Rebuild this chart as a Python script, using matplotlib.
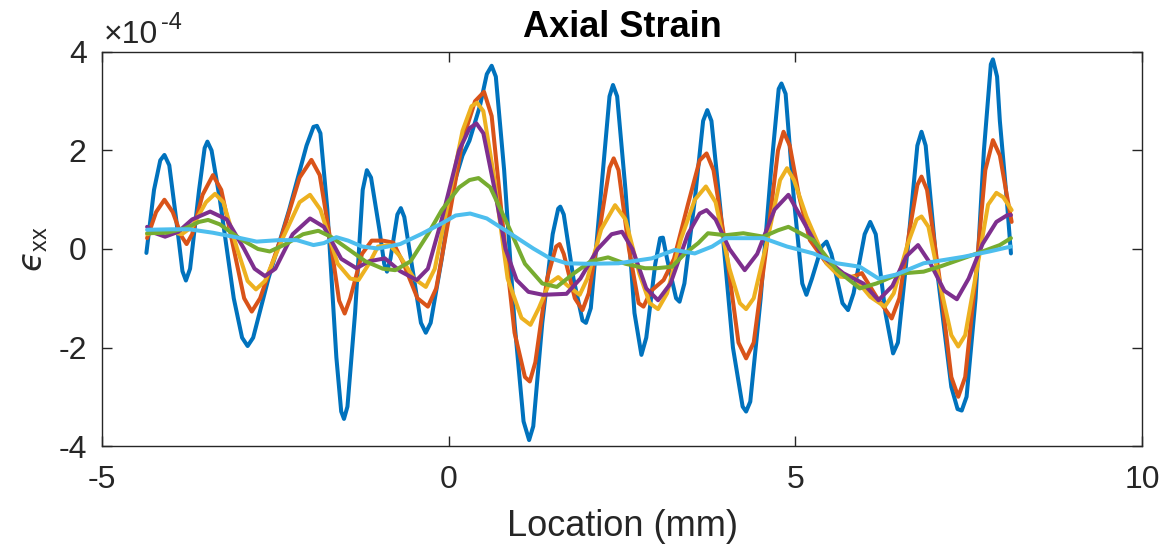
import numpy as np
import matplotlib
matplotlib.use("Agg")
import matplotlib.pyplot as plt
from matplotlib.ticker import FuncFormatter

plt.rcParams['font.family'] = ['Liberation Sans', 'DejaVu Sans']
plt.rcParams['axes.unicode_minus'] = False
plt.rcParams['mathtext.fontset'] = 'custom'
plt.rcParams['mathtext.rm'] = 'Liberation Sans'

# strain along the gauge, in units of 1e-4
x1 = [-4.36, -4.25, -4.16, -4.10, -4.03, -3.93, -3.84, -3.79, -3.73, -3.60, -3.52, -3.48, -3.42, -3.30, -3.10,
      -2.98, -2.90, -2.82, -2.60, -2.30, -2.05, -1.95, -1.90, -1.85, -1.75, -1.62, -1.55, -1.51, -1.46, -1.35,
      -1.24, -1.18, -1.12, -1.00, -0.93, -0.89, -0.84, -0.74, -0.69, -0.64, -0.50, -0.40, -0.33, -0.26, -0.10,
      0.05, 0.20, 0.30, 0.45, 0.55, 0.62, 0.68, 0.80, 0.95, 1.08, 1.16, 1.22, 1.35, 1.50, 1.58, 1.61, 1.66,
      1.80, 1.93, 1.98, 2.05, 2.20, 2.32, 2.37, 2.43, 2.55, 2.68, 2.78, 2.85, 2.98, 3.05, 3.09, 3.15, 3.28,
      3.33, 3.40, 3.55, 3.67, 3.73, 3.79, 3.92, 4.10, 4.24, 4.29, 4.35, 4.50, 4.65, 4.76, 4.80, 4.86, 4.98,
      5.10, 5.16, 5.24, 5.38, 5.45, 5.52, 5.68, 5.76, 5.84, 6.00, 6.08, 6.16, 6.30, 6.41, 6.48, 6.62, 6.76,
      6.82, 6.88, 7.05, 7.25, 7.34, 7.40, 7.47, 7.60, 7.72, 7.82, 7.85, 7.91, 7.95, 8.05, 8.11]
y1 = [-0.08, 1.20, 1.80, 1.91, 1.70, 0.60, -0.45, -0.64, -0.40, 1.20, 2.05, 2.18, 2.00, 1.00, -1.00,
      -1.80, -1.97, -1.80, -0.60, 0.80, 2.10, 2.48, 2.50, 2.35, 0.80, -2.20, -3.30, -3.45, -3.20, -1.30,
      1.20, 1.60, 1.45, 0.40, -0.30, -0.46, -0.20, 0.70, 0.83, 0.65, -0.60, -1.50, -1.70, -1.50, -0.20,
      1.20, 1.90, 2.20, 2.90, 3.55, 3.72, 3.50, 1.60, -1.50, -3.50, -3.88, -3.60, -1.50, 0.30, 0.82, 0.86, 0.70,
      -0.60, -1.45, -1.50, -1.20, 1.20, 3.10, 3.33, 3.10, 1.20, -1.30, -2.15, -1.80, -0.30, 0.22, 0.23, -0.20, -1.00,
      -1.07, -0.70, 1.00, 2.60, 2.82, 2.60, 0.80, -2.00, -3.20, -3.30, -3.10, -1.00, 1.60, 3.25, 3.36, 3.15, 1.00,
      -0.70, -0.93, -0.60, 0.05, 0.15, -0.10, -1.10, -1.24, -0.90, 0.30, 0.55, 0.30, -1.30, -2.12, -1.90, 0.00, 2.10,
      2.38, 2.10, -0.50, -2.80, -3.25, -3.28, -3.00, -1.00, 2.00, 3.75, 3.85, 3.50, 2.60, 1.00, -0.09]

x2 = [-4.35, -4.22, -4.10, -3.98, -3.85, -3.78, -3.70, -3.55, -3.40, -3.28, -3.10, -2.95, -2.84, -2.72, -2.40,
      -2.15, -1.98, -1.86, -1.72, -1.58, -1.50, -1.42, -1.25, -1.11, -0.95, -0.80, -0.65, -0.45, -0.30, -0.18,
      0.00, 0.20, 0.38, 0.51, 0.62, 0.78, 0.95, 1.10, 1.17, 1.25, 1.42, 1.55, 1.60, 1.66, 1.82, 1.93, 2.02,
      2.20, 2.32, 2.38, 2.45, 2.60, 2.74, 2.81, 2.92, 3.10, 3.25, 3.45, 3.62, 3.72, 3.82, 4.00, 4.18, 4.29,
      4.40, 4.58, 4.75, 4.83, 4.92, 5.05, 5.21, 5.45, 5.64, 5.80, 5.96, 6.17, 6.39, 6.50, 6.65, 6.76, 6.82,
      6.90, 7.08, 7.25, 7.35, 7.45, 7.60, 7.74, 7.85, 7.95, 8.05, 8.12]
y2 = [0.22, 0.75, 1.00, 0.75, 0.25, 0.10, 0.30, 1.10, 1.50, 1.20, 0.00, -1.00, -1.27, -1.00, 0.30,
      1.45, 1.81, 1.50, 0.30, -1.05, -1.31, -1.00, -0.10, 0.17, 0.17, 0.13, -0.30, -1.00, -1.17, -0.80,
      0.60, 2.20, 3.00, 3.19, 2.70, 0.50, -1.70, -2.60, -2.69, -2.30, -0.60, 0.05, 0.10, -0.10, -1.00, -1.24, -0.90,
      0.60, 1.65, 1.84, 1.60, 0.00, -1.10, -1.17, -0.85, -0.63, -0.20, 0.90, 1.80, 1.94, 1.60, 0.00, -1.90, -2.22,
      -1.90, 0.00, 2.00, 2.38, 2.10, 1.10, 0.18, -0.29, -0.55, -0.58, -0.49, -0.97, -1.41, -1.00, 0.40, 1.30, 1.47,
      1.20, -0.60, -2.60, -3.00, -2.60, -0.60, 1.60, 2.21, 1.90, 1.10, 0.55]

x3 = [-4.35, -4.20, -4.05, -3.85, -3.70, -3.50, -3.37, -3.25, -3.05, -2.90, -2.78, -2.65, -2.40, -2.15, -2.00,
      -1.85, -1.60, -1.42, -1.30, -1.15, -1.02, -0.85, -0.70, -0.50, -0.33, -0.20, 0.00, 0.20, 0.33, 0.41,
      0.50, 0.65, 0.85, 1.05, 1.18, 1.30, 1.45, 1.58, 1.72, 1.89, 2.00, 2.20, 2.40, 2.55, 2.75, 2.90, 3.02,
      3.15, 3.35, 3.55, 3.71, 3.85, 4.05, 4.20, 4.29, 4.40, 4.60, 4.78, 4.88, 4.98, 5.16, 5.45, 5.64, 5.84,
      6.08, 6.29, 6.42, 6.62, 6.75, 6.82, 6.92, 7.10, 7.25, 7.35, 7.45, 7.62, 7.78, 7.90, 8.00, 8.12]
y3 = [0.30, 0.36, 0.36, 0.30, 0.45, 0.95, 1.12, 0.95, 0.00, -0.65, -0.82, -0.65, 0.20, 0.95, 1.10,
      0.80, -0.30, -0.60, -0.63, -0.30, 0.05, 0.08, -0.15, -0.60, -0.77, -0.40, 1.00, 2.40, 2.90, 2.97,
      2.80, 1.50, -0.60, -1.40, -1.54, -1.20, -0.70, -0.57, -0.75, -0.93, -0.60, 0.40, 0.89, 0.60, -0.50, -1.10, -1.22,
      -0.90, 0.20, 1.00, 1.27, 0.95, -0.40, -1.10, -1.22, -1.00, 0.20, 1.40, 1.64, 1.40, 0.66, -0.29, -0.56, -0.56,
      -0.97, -1.17, -0.90, 0.10, 0.60, 0.66, 0.45, -0.80, -1.75, -1.98, -1.75, -0.40, 0.90, 1.14, 1.05, 0.79]

x4 = [-4.35, -4.25, -4.09, -3.90, -3.70, -3.44, -3.20, -2.95, -2.80, -2.65, -2.50, -2.25, -2.00, -1.80, -1.55,
      -1.33, -1.15, -0.92, -0.70, -0.46, -0.30, -0.10, 0.15, 0.30, 0.40, 0.50, 0.65, 0.82, 0.98, 1.15, 1.36,
      1.70, 1.90, 2.15, 2.35, 2.50, 2.65, 2.85, 3.02, 3.20, 3.45, 3.62, 3.72, 3.85, 4.05, 4.27, 4.45, 4.70,
      4.90, 5.10, 5.40, 5.69, 5.98, 6.20, 6.40, 6.60, 6.77, 6.95, 7.15, 7.33, 7.50, 7.70, 7.90, 8.06, 8.11]
y4 = [0.45, 0.33, 0.25, 0.35, 0.60, 0.76, 0.60, 0.00, -0.40, -0.55, -0.40, 0.30, 0.62, 0.45, -0.20,
      -0.39, -0.25, -0.19, -0.45, -0.63, -0.40, 0.60, 2.00, 2.45, 2.55, 2.35, 1.30, 0.00, -0.63, -0.87, -0.93,
      -0.91, -0.60, 0.00, 0.30, 0.35, 0.00, -0.80, -1.04, -0.70, 0.30, 0.72, 0.79, 0.60, 0.00, -0.43, -0.10, 0.80,
      1.10, 0.60, -0.16, -0.49, -0.70, -1.04, -0.75, -0.15, 0.08, -0.30, -0.85, -1.02, -0.60, 0.10, 0.55, 0.69, 0.69]

x5 = [-4.35, -4.07, -3.80, -3.60, -3.47, -3.30, -3.00, -2.75, -2.58, -2.35, -2.10, -1.88, -1.70, -1.50, -1.20,
      -0.95, -0.77, -0.55, -0.30, -0.10, 0.15, 0.30, 0.43, 0.60, 0.85, 1.10, 1.35, 1.56, 1.80, 2.05, 2.30,
      2.55, 2.83, 3.00, 3.22, 3.41, 3.60, 3.74, 3.99, 4.25, 4.54, 4.75, 4.90, 5.26, 5.60, 5.93, 6.17, 6.50,
      6.85, 7.10, 7.42, 7.70, 7.95, 8.11]
y5 = [0.32, 0.33, 0.42, 0.55, 0.59, 0.50, 0.20, 0.00, -0.05, 0.10, 0.30, 0.37, 0.25, 0.05, -0.25,
      -0.40, -0.43, -0.25, 0.30, 0.79, 1.25, 1.40, 1.44, 1.25, 0.50, -0.30, -0.70, -0.77, -0.50, -0.25, -0.17,
      -0.30, -0.39, -0.39, -0.36, -0.09, 0.12, 0.32, 0.28, 0.32, 0.25, 0.38, 0.45, 0.18, -0.43, -0.80, -0.70, -0.50,
      -0.46, -0.35, -0.19, -0.05, 0.08, 0.22]

x6 = [-4.35, -4.00, -3.74, -3.40, -3.00, -2.77, -2.45, -2.19, -1.95, -1.80, -1.62, -1.45, -1.25, -1.02, -0.70,
      -0.40, -0.10, 0.10, 0.31, 0.55, 0.85, 1.22, 1.45, 1.70, 2.00, 2.45, 2.93, 3.26, 3.55, 3.80, 3.99,
      4.54, 4.88, 5.26, 5.60, 5.93, 6.20, 6.45, 6.85, 7.42, 7.80, 8.11]
y6 = [0.39, 0.40, 0.40, 0.33, 0.22, 0.15, 0.18, 0.18, 0.08, 0.12, 0.24, 0.17, 0.05, 0.01, 0.10,
      0.30, 0.52, 0.68, 0.72, 0.62, 0.35, 0.01, -0.18, -0.29, -0.30, -0.29, -0.19, -0.02, -0.09, 0.05, 0.22,
      0.22, 0.05, -0.09, -0.29, -0.36, -0.60, -0.52, -0.29, -0.16, -0.05, 0.05]

series = [(x1, y1), (x2, y2), (x3, y3), (x4, y4), (x5, y5), (x6, y6)]
colors = ['#0072BD', '#D95319', '#EDB120', '#7E2F8E', '#77AC30', '#4DBEEE']
scale = 1e-4

fig = plt.figure(figsize=(11.66, 5.49), dpi=100)
ax = fig.add_axes([0.0875, 0.1876, 0.8919, 0.7177])

for (xs, ys), c in zip(series, colors):
    ax.plot(xs, np.array(ys) * scale, color=c, lw=2.9,
            solid_joinstyle='round', solid_capstyle='round')

ax.set_xlim(-5, 10)
ax.set_ylim(-4e-4, 4e-4)
ax.set_xticks([-5, 0, 5, 10])
ax.set_yticks([-4e-4, -2e-4, 0, 2e-4, 4e-4])
ax.yaxis.set_major_formatter(FuncFormatter(lambda v, p: '%g' % round(v / scale, 6)))

dark = '#262626'
ax.tick_params(direction='in', length=7, width=1, top=True, right=True,
               labelsize=23, colors=dark)
ax.tick_params(axis='x', pad=14)
ax.tick_params(axis='y', pad=11)
for s in ax.spines.values():
    s.set_color(dark)
    s.set_linewidth(1)

# exponent shown above the y axis
ax.text(0.002, 1.004, '\u00d710', transform=ax.transAxes, fontsize=23,
        color=dark, ha='left', va='bottom')
ax.text(0.057, 1.046, '-4', transform=ax.transAxes, fontsize=17,
        color=dark, ha='left', va='bottom')

ax.set_xlabel('Location (mm)', fontsize=26, color=dark, labelpad=10)
ax.set_ylabel('$\u03f5_{\\rm xx}$', fontsize=24, color=dark, labelpad=6)
ax.set_title('Axial Strain', fontsize=26, fontweight='bold', color='black', pad=10.5)

fig.savefig('out.png', dpi=100)
